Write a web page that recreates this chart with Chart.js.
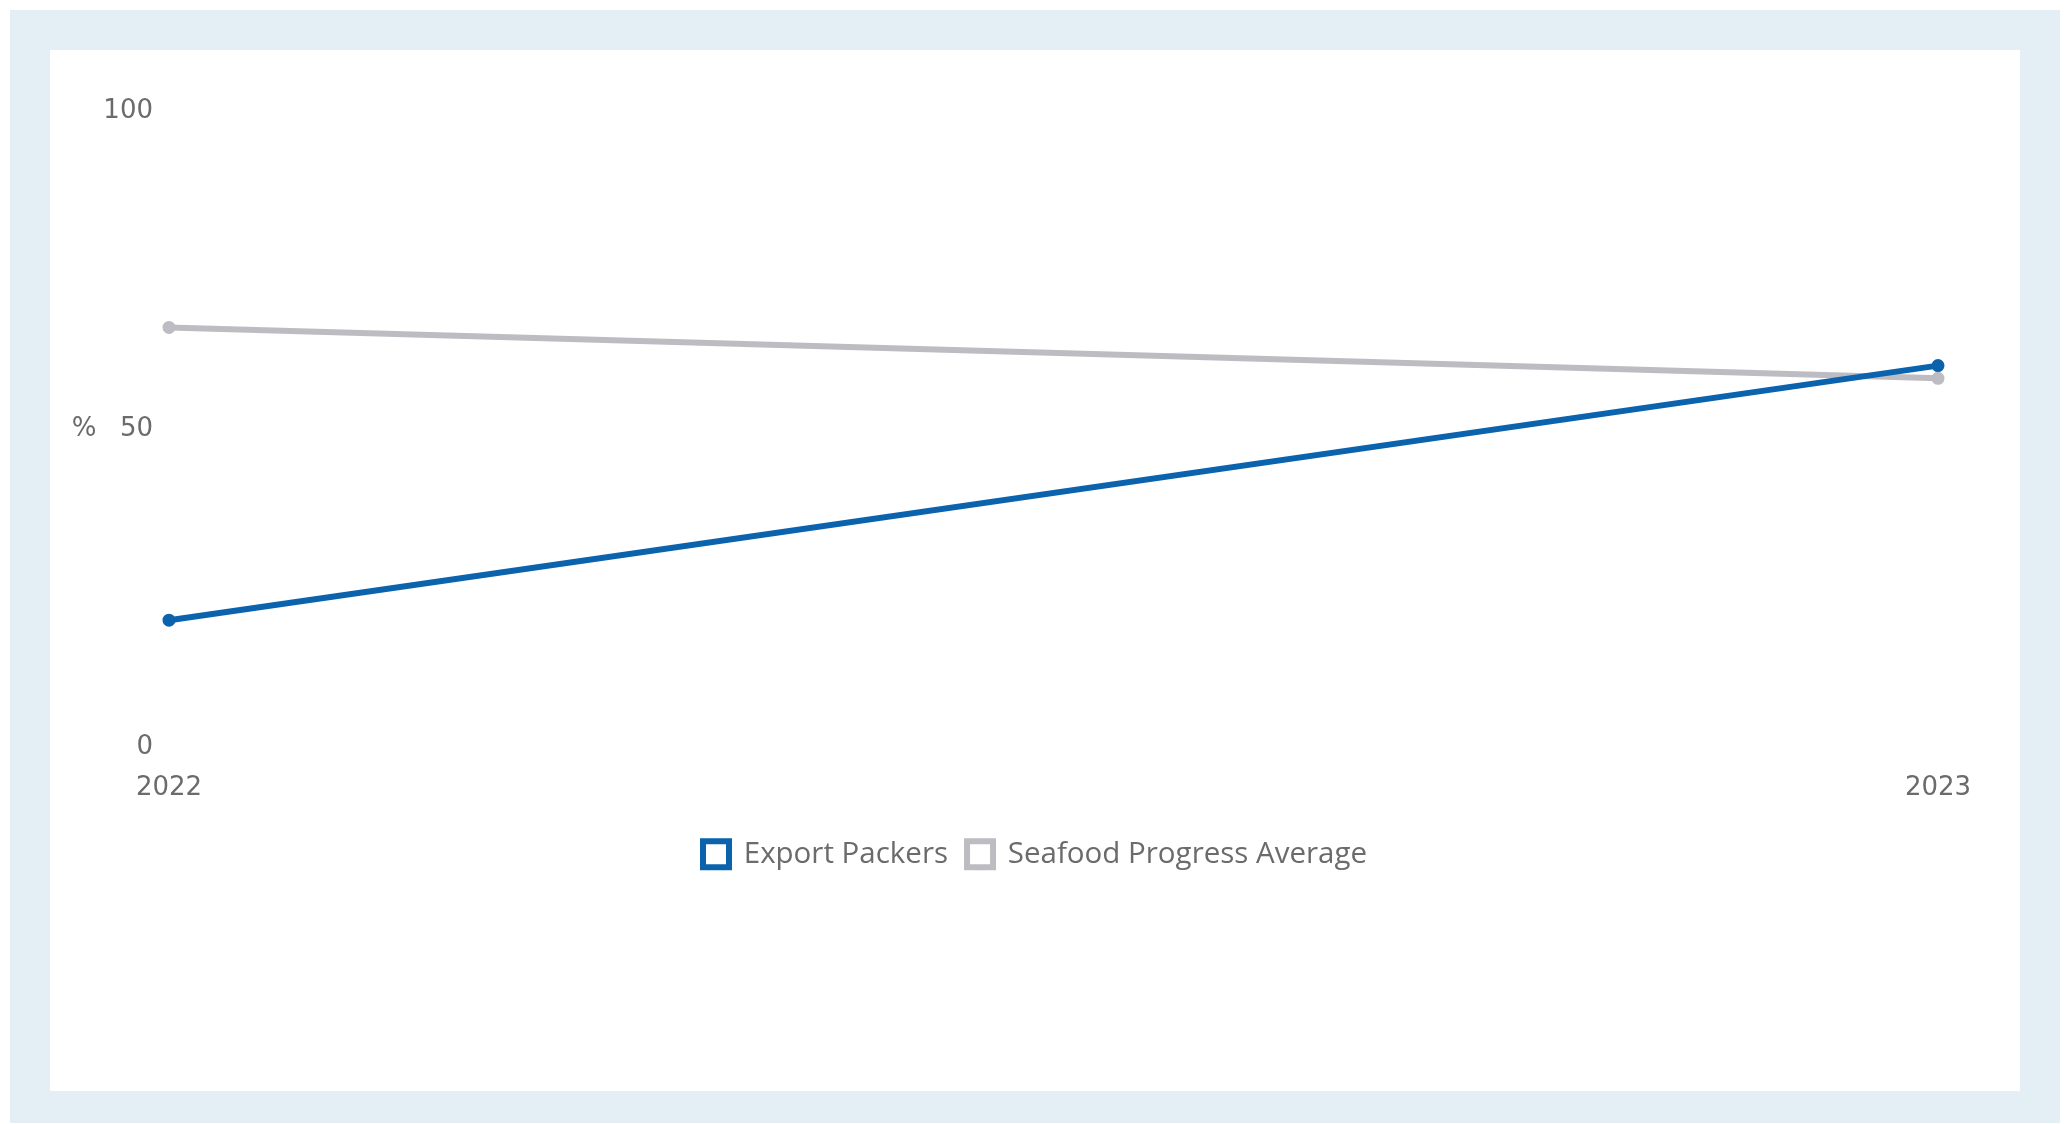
<!DOCTYPE html>
<html>
<head>
<meta charset="utf-8">
<script src="https://cdn.jsdelivr.net/npm/chart.js@4.4.1/dist/chart.umd.min.js"></script>
<style>
  html, body { margin: 0; padding: 0; background: #ffffff; }
  body { width: 2072px; height: 1124px; position: relative; overflow: hidden; }
  #frame { position: absolute; left: 10px; top: 10px; width: 2050px; height: 1113px; background: #e3eef5; }
  #card { position: absolute; left: 50px; top: 50px; width: 1970px; height: 1041px; background: #ffffff; }
  #card canvas { display: block; }
</style>
</head>
<body>
<div id="frame"></div>
<div id="card"><canvas id="chart" width="1970" height="1041"></canvas></div>
<script>
// Years on the x axis
const years = ['2022', '2023'];
// Share (%) per series
const exportPackers = [20, 60];
const seafoodProgressAverage = [66, 58];
// Y axis ticks
const yTicks = [0, 50, 100];

const BLUE = '#0b62ad';
const GREY = '#bcbcc2';
const TEXT = '#6b6b6b';
const AXIS_FONT = { family: 'DejaVu Sans', size: 26 };

// Draws the unit label beside the middle tick of the value axis
const unitLabel = {
  id: 'unitLabel',
  afterDraw(chart) {
    const y = chart.scales.y;
    const ctx = chart.ctx;
    ctx.save();
    ctx.font = '26px "DejaVu Sans"';
    ctx.fillStyle = TEXT;
    ctx.textAlign = 'center';
    ctx.textBaseline = 'middle';
    ctx.fillText('%', 34, y.getPixelForValue(yTicks[1]));
    ctx.restore();
  }
};

new Chart(document.getElementById('chart'), {
  type: 'line',
  data: {
    labels: years,
    datasets: [
      {
        label: 'Export Packers',
        data: exportPackers,
        borderColor: BLUE,
        backgroundColor: '#ffffff',
        pointBackgroundColor: BLUE,
        pointBorderColor: BLUE,
        borderWidth: 6,
        pointRadius: 5.5,
        pointBorderWidth: 2,
        tension: 0
      },
      {
        label: 'Seafood Progress Average',
        data: seafoodProgressAverage,
        borderColor: GREY,
        backgroundColor: '#ffffff',
        pointBackgroundColor: GREY,
        pointBorderColor: GREY,
        borderWidth: 6,
        pointRadius: 5.5,
        pointBorderWidth: 2,
        tension: 0
      }
    ]
  },
  options: {
    responsive: false,
    animation: false,
    devicePixelRatio: 1,
    layout: { padding: { left: 0, right: 0, top: 61, bottom: 212 } },
    scales: {
      x: {
        offset: false,
        grid: { display: false },
        border: { display: false },
        ticks: { color: TEXT, font: AXIS_FONT, padding: 17, maxRotation: 0 },
        afterFit(s) { s.height = 73; }
      },
      y: {
        min: 0,
        max: 100,
        afterBuildTicks(s) { s.ticks = yTicks.map(v => ({ value: v })); },
        grid: { display: false },
        border: { display: false },
        ticks: { color: TEXT, font: AXIS_FONT, padding: 8 },
        afterFit(s) { s.width = 119; }
      },
      // empty right-hand gutter so the plot ends short of the card edge
      gutter: {
        type: 'linear',
        position: 'right',
        grid: { display: false },
        border: { display: false },
        ticks: { display: false },
        afterFit(s) { s.width = 82; }
      }
    },
    plugins: {
      legend: {
        position: 'bottom',
        labels: {
          color: TEXT,
          font: { family: '"Open Sans", sans-serif', size: 29.5 },
          boxWidth: 26,
          boxHeight: 26,
          padding: 19
        }
      },
      tooltip: { enabled: false }
    }
  },
  plugins: [unitLabel]
});
</script>
</body>
</html>
